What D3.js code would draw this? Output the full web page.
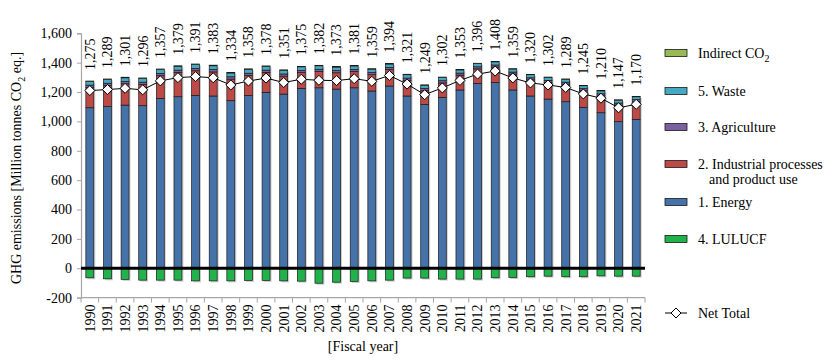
<!DOCTYPE html>
<html>
<head>
<meta charset="utf-8">
<script src="https://cdn.jsdelivr.net/npm/d3@7"></script>
<style>
    body { margin: 0; background: #fff; }
    text { font-family: "Liberation Serif", "Times New Roman", serif; fill: #000; }
</style>
</head>
<body>
<script>
// fiscal years:
var years = [1990, 1991, 1992, 1993, 1994, 1995, 1996, 1997, 1998, 1999,
    2000, 2001, 2002, 2003, 2004, 2005, 2006, 2007, 2008, 2009,
    2010, 2011, 2012, 2013, 2014, 2015, 2016, 2017, 2018, 2019, 2020, 2021];

// sector emissions (Mt CO2 eq.):
var energy = [1093, 1102, 1111, 1107, 1157, 1168, 1177, 1173, 1141, 1177,
    1198, 1186, 1225, 1229, 1220, 1229, 1207, 1241, 1173, 1116,
    1164, 1214, 1259, 1266, 1214, 1173, 1152, 1134, 1096, 1059, 998, 1014];
var industrial = [138, 142, 145, 144, 154, 165, 168, 164, 147, 135,
    136, 122, 107, 111, 111, 110, 111, 112, 107, 93,
    98, 101, 99, 104, 108, 110, 113, 119, 113, 115, 113, 120];
var agriculture = [16, 16, 16, 16, 16, 16, 16, 16, 16, 16,
    15, 15, 15, 15, 15, 15, 15, 15, 15, 15,
    15, 14, 14, 14, 14, 14, 14, 14, 14, 14, 14, 14];
var waste = [24, 25, 25, 25, 26, 26, 26, 26, 26, 26,
    25, 25, 25, 24, 24, 24, 23, 23, 23, 22,
    22, 22, 22, 22, 21, 21, 21, 20, 20, 20, 20, 20];
var indirect = [4, 4, 4, 4, 4, 4, 4, 4, 4, 4,
    4, 3, 3, 3, 3, 3, 3, 3, 3, 3,
    3, 2, 2, 2, 2, 2, 2, 2, 2, 2, 2, 2];
var lulucf = [-65, -72, -76, -81, -81, -81, -86, -86, -86, -83,
    -83, -86, -88, -102, -95, -90, -86, -81, -67, -67,
    -74, -74, -74, -65, -63, -58, -54, -58, -58, -52, -54, -54];

// gross totals shown above the bars:
var totals = [1275, 1289, 1301, 1296, 1357, 1379, 1391, 1383, 1334, 1358,
    1378, 1351, 1375, 1382, 1373, 1381, 1359, 1394, 1321, 1249,
    1302, 1353, 1396, 1408, 1359, 1320, 1302, 1289, 1245, 1210, 1147, 1170];

var yTicks = [-200, 0, 200, 400, 600, 800, 1000, 1200, 1400, 1600];

// stack order bottom -> top
var sectors = [
    { key: "energy", values: energy, color: "#4672aa" },
    { key: "industrial", values: industrial, color: "#bd4a47" },
    { key: "agriculture", values: agriculture, color: "#7c5f9f" },
    { key: "waste", values: waste, color: "#45a9c4" },
    { key: "indirect", values: indirect, color: "#97b956" }
];
var lulucfColor = "#22b24c";

window.onload = function(){

    var w = 833, h = 364;

    var svg = d3.select("body")
        .append("svg")
        .attr("width", w)
        .attr("height", h);

    // scales:
    var x = d3.scaleBand()
        .domain(years)
        .range([81, 645])
        .paddingInner(0.55)
        .paddingOuter(0.275);

    var y = d3.scaleLinear()
        .domain([-200, 1600])
        .range([297.6, 33.3]);

    // build table for stacking
    var table = years.map(function(yr, i){
        var row = { year: yr };
        sectors.forEach(function(s){ row[s.key] = s.values[i]; });
        return row;
    });

    var stack = d3.stack().keys(sectors.map(function(s){ return s.key; }));
    var series = stack(table);

    // y axis (plain hyphen for negatives, like the original)
    var fmt = d3.format(",");
    var yAxis = d3.axisLeft(y)
        .tickValues(yTicks)
        .tickSize(4)
        .tickPadding(5)
        .tickFormat(function(d){ return fmt(d).replace("\u2212", "-"); });

    var gy = svg.append("g")
        .attr("transform", "translate(81, 0)")
        .call(yAxis);
    gy.select(".domain").attr("stroke", "#a6a6a6").attr("stroke-width", 1.2);
    gy.selectAll(".tick line").attr("stroke", "#a6a6a6");
    gy.selectAll(".tick text").style("font-size", "14px");

    // x axis (line + ticks at band edges)
    var gx = svg.append("g").attr("class", "xaxis");
    gx.append("line")
        .attr("x1", 81).attr("x2", 645)
        .attr("y1", y(-200)).attr("y2", y(-200))
        .attr("stroke", "#a6a6a6").attr("stroke-width", 1.2);
    gx.selectAll(".xtick")
        .data(d3.range(years.length + 1))
        .enter()
        .append("line")
        .attr("x1", function(i){ return 81 + i * x.step(); })
        .attr("x2", function(i){ return 81 + i * x.step(); })
        .attr("y1", y(-200))
        .attr("y2", y(-200) + 5)
        .attr("stroke", "#a6a6a6");

    gx.selectAll(".yearLabel")
        .data(years)
        .enter()
        .append("text")
        .attr("class", "yearLabel")
        .attr("text-anchor", "end")
        .attr("dy", "0.35em")
        .attr("transform", function(d){
            return "translate(" + (x(d) + x.bandwidth() / 2) + "," + (y(-200) + 7) + ") rotate(-90)";
        })
        .style("font-size", "14px")
        .text(function(d){ return d; });

    // shadows for bars
    svg.selectAll(".shadow")
        .data(years)
        .enter()
        .append("rect")
        .attr("x", function(d){ return x(d) + 1.5; })
        .attr("y", function(d, i){ return y(totals[i]) + 1.5; })
        .attr("width", x.bandwidth())
        .attr("height", function(d, i){ return y(0) - y(totals[i]); })
        .attr("fill", "#aaa")
        .attr("opacity", 0.6);
    svg.selectAll(".shadowL")
        .data(years)
        .enter()
        .append("rect")
        .attr("x", function(d){ return x(d) + 1.5; })
        .attr("y", y(0) + 1.5)
        .attr("width", x.bandwidth())
        .attr("height", function(d, i){ return y(lulucf[i]) - y(0); })
        .attr("fill", "#aaa")
        .attr("opacity", 0.6);

    // stacked bars:
    var layers = svg.selectAll(".layer")
        .data(series)
        .enter()
        .append("g")
        .attr("class", "layer")
        .attr("fill", function(d, i){ return sectors[i].color; });

    layers.selectAll("rect")
        .data(function(d){ return d; })
        .enter()
        .append("rect")
        .attr("x", function(d){ return x(d.data.year); })
        .attr("y", function(d){ return y(d[1]); })
        .attr("width", x.bandwidth())
        .attr("height", function(d){ return y(d[0]) - y(d[1]); })
        .attr("stroke", "#1a1a1a")
        .attr("stroke-width", 0.7);

    // LULUCF bars (negative)
    svg.selectAll(".lulucf")
        .data(lulucf)
        .enter()
        .append("rect")
        .attr("class", "lulucf")
        .attr("x", function(d, i){ return x(years[i]); })
        .attr("y", y(0))
        .attr("width", x.bandwidth())
        .attr("height", function(d){ return y(d) - y(0); })
        .attr("fill", lulucfColor)
        .attr("stroke", "#1a1a1a")
        .attr("stroke-width", 0.7);

    // zero line
    svg.append("line")
        .attr("x1", 81).attr("x2", 645)
        .attr("y1", y(0)).attr("y2", y(0))
        .attr("stroke", "#000")
        .attr("stroke-width", 3);

    // net total line + diamonds
    var net = years.map(function(yr, i){
        return { year: yr, value: totals[i] + lulucf[i] };
    });

    var line = d3.line()
        .x(function(d){ return x(d.year) + x.bandwidth() / 2; })
        .y(function(d){ return y(d.value); });

    svg.append("path")
        .datum(net)
        .attr("d", line)
        .attr("fill", "none")
        .attr("stroke", "#000")
        .attr("stroke-width", 1);

    var diamond = d3.symbol().type(d3.symbolDiamond2).size(64);

    svg.selectAll(".netPt")
        .data(net)
        .enter()
        .append("path")
        .attr("class", "netPt")
        .attr("d", diamond)
        .attr("transform", function(d){
            return "translate(" + (x(d.year) + x.bandwidth() / 2) + "," + y(d.value) + ")";
        })
        .attr("fill", "#fff")
        .attr("stroke", "#000")
        .attr("stroke-width", 1);

    // total labels above bars
    svg.selectAll(".totLabel")
        .data(totals)
        .enter()
        .append("text")
        .attr("class", "totLabel")
        .attr("text-anchor", "start")
        .attr("dy", "0.35em")
        .attr("transform", function(d, i){
            return "translate(" + (x(years[i]) + x.bandwidth() / 2) + "," + (y(d) - 11) + ") rotate(-90)";
        })
        .style("font-size", "14px")
        .text(function(d){ return fmt(d); });

    // y axis title
    var yTitle = svg.append("text")
        .attr("text-anchor", "middle")
        .attr("transform", "translate(21, 168) rotate(-90)")
        .style("font-size", "14px");
    yTitle.append("tspan").text("GHG  emissions [Million tonnes CO");
    yTitle.append("tspan").attr("dy", 4).style("font-size", "10px").text("2");
    yTitle.append("tspan").attr("dy", -4).text(" eq.]");

    // x axis title
    svg.append("text")
        .attr("x", 363)
        .attr("y", 351)
        .attr("text-anchor", "middle")
        .style("font-size", "14px")
        .text("[Fiscal year]");

    // legend:
    var legendRows = [
        { color: "#97b956", label: ["Indirect CO"], sub: true, y: 53 },
        { color: "#45a9c4", label: ["5. Waste"], y: 91 },
        { color: "#7c5f9f", label: ["3. Agriculture"], y: 127 },
        { color: "#bd4a47", label: ["2. Industrial processes", "and product use"], y: 164 },
        { color: "#4672aa", label: ["1. Energy"], y: 202 },
        { color: lulucfColor, label: ["4. LULUCF"], y: 239 }
    ];

    var legend = svg.selectAll(".legend")
        .data(legendRows)
        .enter()
        .append("g")
        .attr("class", "legend")
        .attr("transform", function(d){ return "translate(665," + d.y + ")"; });

    legend.append("rect")
        .attr("x", 0)
        .attr("y", -3.5)
        .attr("width", 22)
        .attr("height", 7)
        .attr("fill", function(d){ return d.color; })
        .attr("stroke", "#1a1a1a")
        .attr("stroke-width", 0.8);

    var ltext = legend.append("text")
        .attr("x", 33)
        .attr("dy", "0.35em")
        .style("font-size", "14px");

    ltext.append("tspan")
        .text(function(d){ return d.label[0]; });
    ltext.filter(function(d){ return d.sub; })
        .append("tspan")
        .attr("dy", 4)
        .style("font-size", "10px")
        .text("2");
    ltext.filter(function(d){ return d.label.length > 1; })
        .append("tspan")
        .attr("x", 44)
        .attr("dy", 15)
        .text(function(d){ return d.label[1]; });

    // net total legend
    var netLeg = svg.append("g").attr("transform", "translate(665,313)");
    netLeg.append("line")
        .attr("x1", 0).attr("x2", 22)
        .attr("stroke", "#000");
    netLeg.append("path")
        .attr("d", diamond)
        .attr("transform", "translate(11,0)")
        .attr("fill", "#fff")
        .attr("stroke", "#000");
    netLeg.append("text")
        .attr("x", 33)
        .attr("dy", "0.35em")
        .style("font-size", "14px")
        .text("Net Total");
};
</script>
</body>
</html>
